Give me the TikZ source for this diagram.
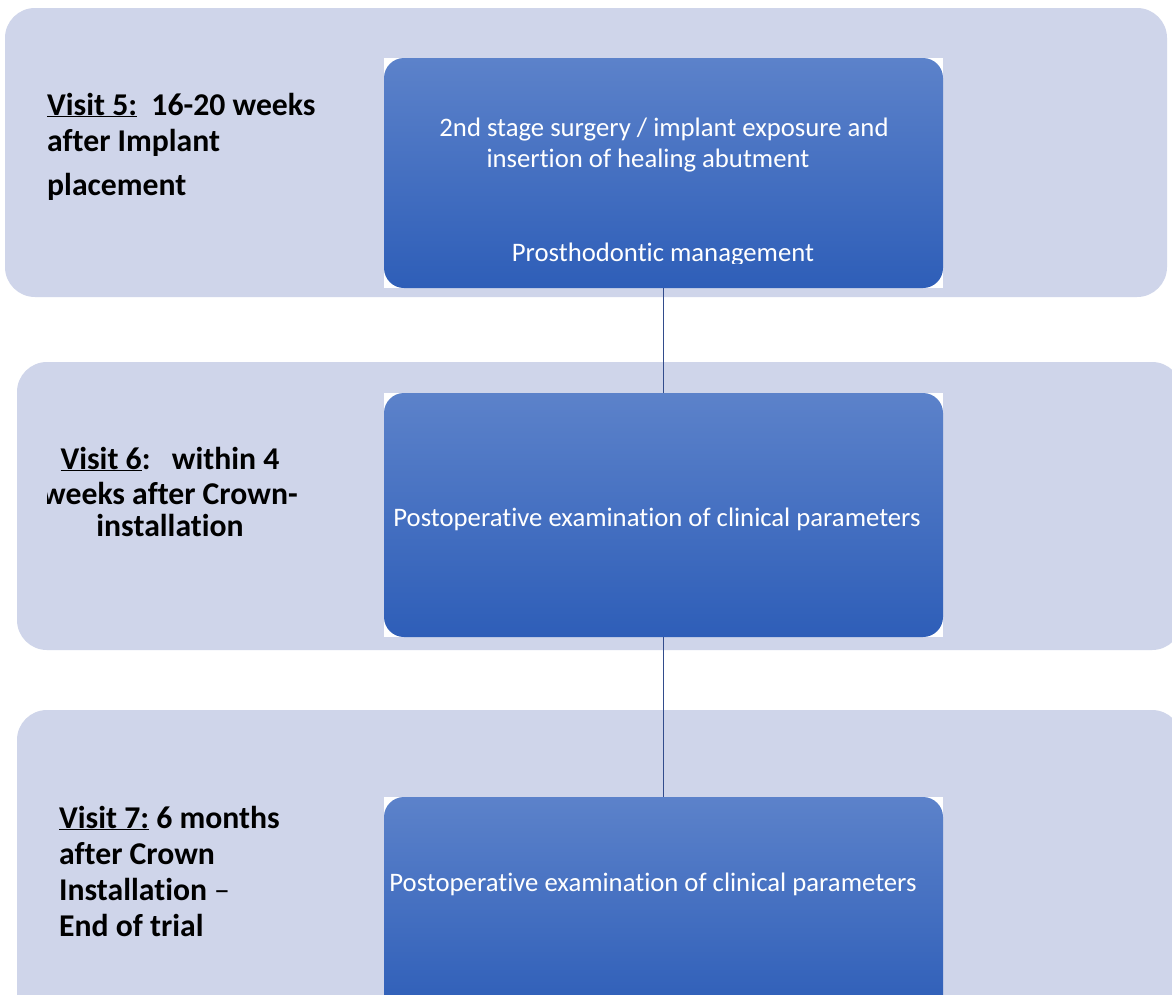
\documentclass[tikz,border=0pt]{standalone}
\usepackage{fontspec}
\setmainfont{Carlito}[Ligatures=NoCommon]
\definecolor{panelfill}{RGB}{207,213,234}
\definecolor{boxtop}{RGB}{92,130,202}
\definecolor{boxbot}{RGB}{46,94,184}
\definecolor{linkcol}{RGB}{50,76,140}
\begin{document}
\begin{tikzpicture}[x=1pt,y=-1pt,
  panel/.style={fill=panelfill, rounded corners=30pt},
  bluebox/.style={rectangle, rounded corners=20pt, top color=boxtop, bottom color=boxbot, inner sep=0pt, minimum width=559pt},
  boxtxt/.style={text=white, font=\fontsize{26.7}{28}\selectfont, inner sep=0pt, anchor=base},
  lab/.style={font=\fontsize{31.7}{38}\selectfont\bfseries, inner sep=0pt, anchor=base west},
  labc/.style={font=\fontsize{31.7}{38}\selectfont\bfseries, inner sep=0pt, anchor=base},
  link/.style={draw=linkcol, line width=1pt}]
\clip (0,0) rectangle (1172,994);
\fill[white] (0,0) rectangle (1172,994);
% panels
\path[panel] (5,8) rectangle (1167,297);
\path[panel] (17,362) rectangle (1182,650);
\path[panel] (17,710) rectangle (1182,1030);
% white corners behind boxes
\fill[white] (384,58) rectangle (943,288);
\fill[white] (384,393) rectangle (943,637);
\fill[white] (384,797) rectangle (943,1015);
% boxes
\node[bluebox, minimum height=230pt] (b1) at (663.5,173) {};
\node[bluebox, minimum height=244pt] (b2) at (663.5,515) {};
\node[bluebox, minimum height=218pt] (b3) at (663.5,906) {};
% connectors
\draw[link] (b1.south) -- (b2.north);
\draw[link] (b2.south) -- (b3.north);
% box texts
\node[boxtxt] (t1a) at (664,136) {2nd stage surgery / implant exposure and};
\node[boxtxt] (t1b) at (648,167) {insertion of healing abutment};
\begin{scope}
\clip (384,58) rectangle (943,263);
\node[boxtxt] (t1c) at (663,261) {Prosthodontic management};
\end{scope}
\node[boxtxt] (t2) at (657,526) {Postoperative examination of clinical parameters};
\node[boxtxt] (t3) at (653,891) {Postoperative examination of clinical parameters};
% left labels
\node[lab] (l1a) at (47,115) {\underline{Visit 5:}\ \ 16-20 weeks};
\node[lab] (l1b) at (47,151) {after Implant};
\node[lab] (l1c) at (47,195) {placement};
\node[labc] (l2a) at (170,469) {\underline{Visit 6}:\ \ \ within 4};
\begin{scope}
\clip (47,470) rectangle (400,520);
\node[labc] (l2b) at (170,504) {weeks after Crown-};
\end{scope}
\node[labc] (l2c) at (170,536) {installation};
\node[lab] (l3a) at (59,828) {\underline{Visit 7:} 6 months};
\node[lab] (l3b) at (59,864) {after Crown};
\node[lab] (l3c) at (59,900) {Installation {\mdseries --}};
\node[lab] (l3d) at (59,936) {End of trial};
\end{tikzpicture}
\end{document}
